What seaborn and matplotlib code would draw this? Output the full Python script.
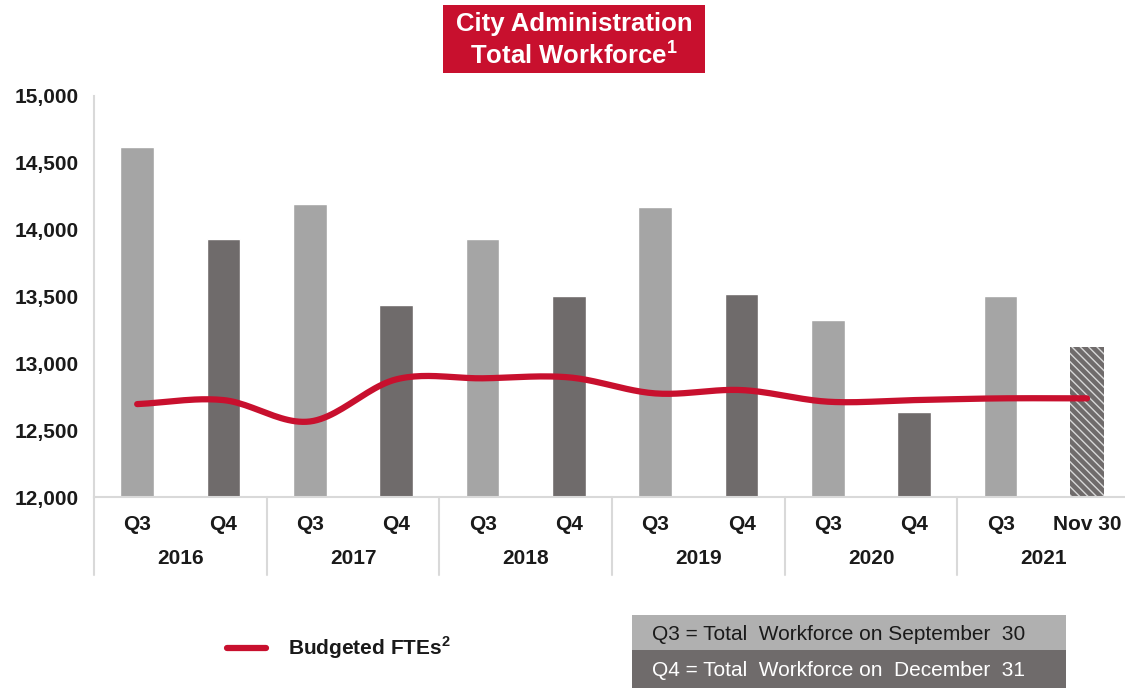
import numpy as np
import pandas as pd
import seaborn as sns
import matplotlib.pyplot as plt
from matplotlib.patches import Rectangle
from matplotlib.ticker import FuncFormatter

# ---- data ----
years = ["2016", "2017", "2018", "2019", "2020", "2021"]
periods = ["Q3", "Q4", "Q3", "Q4", "Q3", "Q4", "Q3", "Q4", "Q3", "Q4", "Q3", "Nov 30"]
workforce = [14620, 13930, 14190, 13440, 13930, 13500, 14170, 13515, 13325, 12635, 13505, 13125]
budgeted_ftes = [12695, 12725, 12565, 12880, 12888, 12895, 12775, 12800, 12713, 12725, 12738, 12738]

LIGHT = "#a5a5a5"
DARK = "#6f6b6b"
RED = "#c8102e"
TXT = "#1a1a1a"

sns.set_style("white")
plt.rcParams['font.family'] = ['Liberation Sans', 'DejaVu Sans']
plt.rcParams['mathtext.fontset'] = 'custom'
plt.rcParams['mathtext.bf'] = 'Liberation Sans:bold'
plt.rcParams['hatch.linewidth'] = 1.0

df = pd.DataFrame({
    "slot": [f"{years[i // 2]} {p}" for i, p in enumerate(periods)],
    "period": periods,
    "value": workforce,
})

fig = plt.figure(figsize=(11.25, 6.88), dpi=100)
ax = fig.add_axes([94 / 1125, 1 - 497 / 688, 1 - 94 / 1125, 401 / 688])

sns.barplot(data=df, x="slot", y="value", hue="period", dodge=False, legend=False,
            palette={"Q3": LIGHT, "Q4": DARK, "Nov 30": DARK}, width=0.39,
            saturation=1, ax=ax)

# hatched bar for the partial-year point
for p in ax.patches:
    if abs(p.get_x() + p.get_width() / 2 - 11) < 0.1:
        p.set_facecolor(DARK)
        p.set_edgecolor("#d8d8d8")
        p.set_hatch("\\\\\\\\")
        p.set_linewidth(0)

# smoothed budget line (Catmull-Rom through the points, like Excel's smoothed line)
def catmull_rom(xs, ys, n=24):
    px = np.concatenate([[2 * xs[0] - xs[1]], xs, [2 * xs[-1] - xs[-2]]])
    py = np.concatenate([[2 * ys[0] - ys[1]], ys, [2 * ys[-1] - ys[-2]]])
    out_x, out_y = [], []
    t = np.linspace(0, 1, n, endpoint=False)
    for i in range(1, len(px) - 2):
        for arr, out in ((px, out_x), (py, out_y)):
            p0, p1, p2, p3 = arr[i - 1], arr[i], arr[i + 1], arr[i + 2]
            out.extend(0.5 * ((2 * p1) + (-p0 + p2) * t
                              + (2 * p0 - 5 * p1 + 4 * p2 - p3) * t ** 2
                              + (-p0 + 3 * p1 - 3 * p2 + p3) * t ** 3))
    out_x.append(xs[-1])
    out_y.append(ys[-1])
    return np.array(out_x), np.array(out_y)

sx, sy = catmull_rom(np.arange(len(budgeted_ftes), dtype=float), np.array(budgeted_ftes, dtype=float))
ax.plot(sx, sy, color=RED, lw=4.5, solid_capstyle="round", zorder=5)

ax.set_ylim(12000, 15000)
ax.set_xlim(-0.5, 11.44)
ax.set_yticks(np.arange(12000, 15001, 500))
ax.yaxis.set_major_formatter(FuncFormatter(lambda v, _: f"{v:,.0f}"))
ax.set_xticks(range(len(periods)))
ax.set_xticklabels(periods)
ax.set_xlabel("")
ax.set_ylabel("")
ax.tick_params(axis="both", length=0, labelsize=15, labelcolor=TXT)
ax.tick_params(axis="x", pad=13)
ax.tick_params(axis="y", pad=11)
for lab in ax.get_xticklabels() + ax.get_yticklabels():
    lab.set_fontweight("bold")

for side in ["top", "right"]:
    ax.spines[side].set_visible(False)
for side in ["left", "bottom"]:
    ax.spines[side].set_color("#d9d9d9")
    ax.spines[side].set_linewidth(1.5)

# year group labels and separators under the axis
trans = ax.get_xaxis_transform()
sep_bottom = -(575 - 497) / 401
for i, yr in enumerate(years):
    ax.text(2 * i + 0.5, -(559 - 497) / 401, yr, transform=trans, ha="center", va="center",
            fontsize=15, fontweight="bold", color=TXT)
for b in range(0, 6):
    ax.plot([2 * b - 0.5, 2 * b - 0.5], [0, sep_bottom], transform=trans,
            color="#d9d9d9", lw=1.5, clip_on=False)

# title box
fig.patches.append(Rectangle((443 / 1125, 1 - 73 / 688), 262 / 1125, 68 / 688,
                             transform=fig.transFigure, facecolor=RED, edgecolor="none"))
fig.text(574 / 1125, 1 - 24 / 688, "City Administration", ha="center", va="center",
         color="white", fontsize=18.5, fontweight="bold")
fig.text(574 / 1125, 1 - 55 / 688, r"Total Workforce$^{\mathbf{1}}$", ha="center", va="center",
         color="white", fontsize=18.5, fontweight="bold")

# line legend
fig.lines.append(plt.Line2D([227 / 1125, 266 / 1125], [1 - 648 / 688] * 2,
                            transform=fig.transFigure, color=RED, lw=4.5,
                            solid_capstyle="round"))
fig.text(288 / 1125, 1 - 648 / 688, r"Budgeted FTEs$^{\mathbf{2}}$", ha="left", va="center",
         color=TXT, fontsize=15, fontweight="bold")

# quarter key box
fig.patches.append(Rectangle((632 / 1125, 1 - 650 / 688), 434 / 1125, 35 / 688,
                             transform=fig.transFigure, facecolor="#b0b0b0", edgecolor="none"))
fig.patches.append(Rectangle((632 / 1125, 0), 434 / 1125, 38 / 688,
                             transform=fig.transFigure, facecolor=DARK, edgecolor="none"))
fig.text(652 / 1125, 1 - 634 / 688, "Q3 = Total  Workforce on September  30", ha="left",
         va="center", color="#1a1a1a", fontsize=15)
fig.text(652 / 1125, 1 - 670 / 688, "Q4 = Total  Workforce on  December  31", ha="left",
         va="center", color="white", fontsize=15)

fig.savefig("out.png", dpi=100)
